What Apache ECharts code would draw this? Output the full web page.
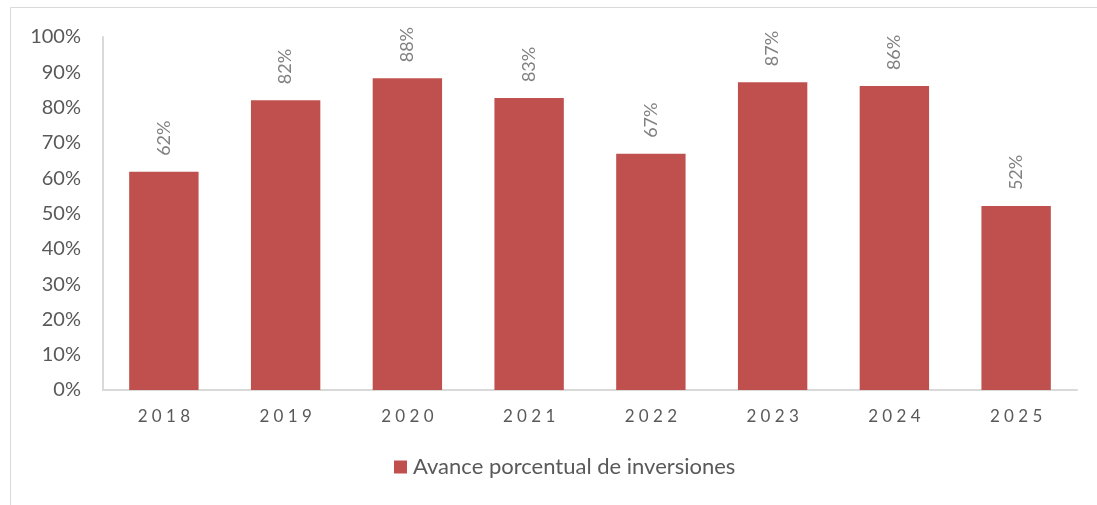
<!DOCTYPE html>
<html>
<head>
<meta charset="utf-8">
<script src="https://cdn.jsdelivr.net/npm/echarts@6/dist/echarts.min.js"></script>
<style>
html,body{margin:0;padding:0;background:#fff;}
#chart{width:1097px;height:505px;}
</style>
</head>
<body>
<div id="chart"></div>
<script>
var years = ['2018','2019','2020','2021','2022','2023','2024','2025'];
var avance = [61.8, 82.1, 88.3, 82.7, 66.9, 87.2, 86.1, 52.1];
var serieName = 'Avance porcentual de inversiones';

var myChart = echarts.init(document.getElementById('chart'));
var option = {
    animation: false,
    textStyle: {fontFamily: 'Lato'},
    graphic: [{
        type: 'rect',
        shape: {x: 10.5, y: 7.5, width: 1200, height: 600},
        style: {fill: 'none', stroke: '#d9d9d9', lineWidth: 1},
        silent: true
    }],
    grid: {left: 103, right: 20, top: 37, bottom: 115},
    legend: {
        bottom: 22,
        left: 389,
        icon: 'rect',
        itemWidth: 13,
        itemHeight: 13,
        itemGap: 6,
        textStyle: {color: '#595959', fontSize: 22, fontFamily: 'Lato', padding: [0, 0, 0, 1]},
        data: [serieName]
    },
    xAxis: {
        type: 'category',
        data: years,
        axisLine: {lineStyle: {color: '#d9d9d9', width: 2}},
        axisTick: {show: false},
        axisLabel: {
            color: '#595959', fontSize: 17, margin: 18,
            formatter: function (v) { return v.split('').join(' '); }
        }
    },
    yAxis: {
        type: 'value',
        min: 0, max: 100, interval: 10,
        axisLine: {show: true, lineStyle: {color: '#d9d9d9', width: 2}},
        splitLine: {show: false},
        axisLabel: {color: '#595959', fontSize: 20, margin: 22, formatter: '{value}%'}
    },
    series: [{
        name: serieName,
        type: 'bar',
        data: avance,
        barWidth: '57%',
        itemStyle: {color: '#c0504d'},
        label: {
            show: true,
            position: 'top',
            rotate: 90,
            align: 'left',
            verticalAlign: 'middle',
            distance: 16,
            color: '#808080',
            fontSize: 18,
            formatter: function (p) { return Math.round(p.value) + '%'; }
        }
    }]
};
myChart.setOption(option);
</script>
</body>
</html>
